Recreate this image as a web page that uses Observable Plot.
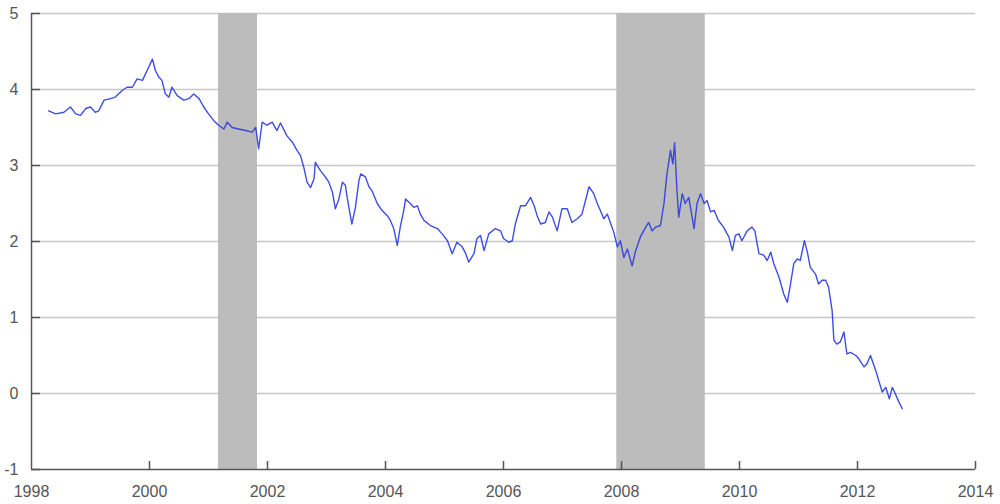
<!DOCTYPE html>
<html>
<head>
<meta charset="utf-8">
<script src="https://cdn.jsdelivr.net/npm/d3@7"></script>
<script src="https://cdn.jsdelivr.net/npm/@observablehq/plot@0.6"></script>
<style>
  html, body { margin: 0; padding: 0; background: #fff; }
  #chart svg { display: block; }
</style>
</head>
<body>
<div id="chart"></div>
<script>
const dates = [1998.29,1998.41,1998.55,1998.66,1998.75,1998.83,1998.92,1999.00,1999.08,1999.14,1999.23,1999.34,1999.42,1999.54,1999.62,1999.71,1999.79,1999.88,1999.96,2000.05,2000.10,2000.16,2000.21,2000.27,2000.33,2000.38,2000.47,2000.58,2000.67,2000.75,2000.84,2000.92,2001.00,2001.09,2001.17,2001.26,2001.32,2001.40,2001.51,2001.63,2001.74,2001.80,2001.85,2001.91,2001.99,2002.08,2002.16,2002.22,2002.33,2002.42,2002.50,2002.56,2002.62,2002.67,2002.73,2002.79,2002.81,2002.90,2002.98,2003.04,2003.10,2003.15,2003.21,2003.27,2003.32,2003.35,2003.43,2003.49,2003.55,2003.58,2003.66,2003.72,2003.77,2003.86,2003.94,2004.03,2004.08,2004.14,2004.20,2004.25,2004.31,2004.34,2004.42,2004.48,2004.54,2004.59,2004.65,2004.76,2004.88,2004.96,2005.05,2005.13,2005.21,2005.30,2005.36,2005.41,2005.50,2005.55,2005.61,2005.67,2005.75,2005.86,2005.95,2006.00,2006.09,2006.15,2006.20,2006.29,2006.37,2006.46,2006.52,2006.57,2006.63,2006.71,2006.77,2006.83,2006.91,2006.99,2007.08,2007.16,2007.25,2007.33,2007.39,2007.45,2007.53,2007.59,2007.64,2007.70,2007.76,2007.81,2007.87,2007.93,2007.98,2008.04,2008.10,2008.18,2008.24,2008.32,2008.41,2008.46,2008.52,2008.58,2008.66,2008.72,2008.77,2008.83,2008.87,2008.90,2008.94,2008.97,2009.03,2009.08,2009.14,2009.23,2009.28,2009.34,2009.40,2009.45,2009.51,2009.57,2009.64,2009.73,2009.79,2009.82,2009.88,2009.93,2009.99,2010.04,2010.13,2010.21,2010.26,2010.33,2010.41,2010.47,2010.53,2010.58,2010.67,2010.75,2010.81,2010.86,2010.92,2010.98,2011.03,2011.10,2011.15,2011.20,2011.29,2011.34,2011.40,2011.46,2011.51,2011.57,2011.60,2011.65,2011.71,2011.77,2011.82,2011.88,2011.97,2012.02,2012.11,2012.16,2012.22,2012.31,2012.36,2012.42,2012.48,2012.54,2012.59,2012.64,2012.70,2012.76];
const values = [3.72,3.68,3.70,3.77,3.68,3.66,3.75,3.77,3.70,3.72,3.86,3.88,3.90,3.99,4.03,4.03,4.14,4.12,4.25,4.40,4.25,4.16,4.12,3.94,3.90,4.03,3.92,3.86,3.88,3.94,3.88,3.77,3.68,3.59,3.53,3.48,3.57,3.50,3.48,3.46,3.44,3.50,3.22,3.57,3.53,3.57,3.46,3.56,3.39,3.31,3.20,3.13,2.96,2.78,2.71,2.83,3.04,2.93,2.85,2.78,2.65,2.43,2.56,2.78,2.74,2.58,2.23,2.45,2.80,2.89,2.85,2.72,2.67,2.50,2.41,2.34,2.28,2.17,1.95,2.19,2.41,2.56,2.50,2.45,2.47,2.36,2.28,2.21,2.17,2.10,2.01,1.84,1.99,1.93,1.84,1.73,1.84,2.04,2.08,1.88,2.10,2.17,2.14,2.04,1.99,2.01,2.23,2.47,2.47,2.58,2.47,2.34,2.23,2.25,2.39,2.32,2.14,2.43,2.43,2.25,2.30,2.36,2.54,2.72,2.63,2.50,2.41,2.30,2.36,2.25,2.12,1.93,2.01,1.79,1.90,1.68,1.88,2.06,2.19,2.25,2.14,2.19,2.21,2.50,2.89,3.20,3.02,3.30,2.67,2.32,2.63,2.50,2.58,2.17,2.50,2.63,2.50,2.54,2.39,2.41,2.28,2.19,2.10,2.06,1.88,2.08,2.10,2.01,2.14,2.19,2.14,1.84,1.82,1.75,1.86,1.71,1.53,1.31,1.20,1.42,1.71,1.77,1.75,2.01,1.86,1.66,1.57,1.44,1.49,1.49,1.40,1.09,0.70,0.65,0.68,0.81,0.52,0.54,0.50,0.46,0.35,0.39,0.50,0.30,0.17,0.02,0.08,-0.07,0.08,0.00,-0.11,-0.20];

const recessionStart = [2001.17, 2007.92];
const recessionEnd = [2001.83, 2009.42];

const xTicks = [1998, 2000, 2002, 2004, 2006, 2008, 2010, 2012, 2014];
const yTicks = [-1, 0, 1, 2, 3, 4, 5];

const series = dates.map((t, i) => ({t, v: values[i]}));
const recessions = recessionStart.map((s, i) => ({start: s, end: recessionEnd[i]}));

const W = 1000, H = 504;
const mL = 31, mR = 25, mT = 13, mB = 35;

const chart = Plot.plot({
  width: W,
  height: H,
  marginLeft: mL,
  marginRight: mR,
  marginTop: mT,
  marginBottom: mB,
  style: {fontFamily: "Liberation Sans, Arial, sans-serif", fontSize: "16px", color: "#555", background: "#fff"},
  x: {domain: [1998, 2014], label: null},
  y: {domain: [-1, 5], label: null},
  marks: [
    Plot.ruleY(yTicks.slice(1), {y: d => d, stroke: "#c8c8c8", strokeWidth: 1.6}),
    Plot.rect(recessions, {x1: "start", x2: "end", fill: "#bcbcbc"}),
    Plot.line(series, {x: "t", y: "v", stroke: "#2a3ae0", strokeWidth: 1.4, strokeOpacity: 0.9}),
    Plot.tickY(yTicks, {y: d => d, stroke: "#555", strokeWidth: 1.5, insetRight: W - mL - mR - 9}),
    Plot.tickX(xTicks.slice(1), {x: d => d, stroke: "#555", strokeWidth: 1.5, insetTop: H - mT - mB - 8}),
    Plot.ruleX([xTicks[0]], {stroke: "#555", strokeWidth: 1.5}),
    Plot.ruleY([yTicks[0]], {y: d => d, stroke: "#555", strokeWidth: 1.5}),
    Plot.axisY({ticks: yTicks, tickSize: 0, tickPadding: 13, tickFormat: d => String(d), fill: "#555", fontSize: 16, label: null}),
    Plot.axisX({ticks: xTicks, tickSize: 0, tickPadding: 16, tickFormat: d => String(d), fill: "#555", fontSize: 16, label: null})
  ]
});
document.getElementById("chart").appendChild(chart);
</script>
</body>
</html>
